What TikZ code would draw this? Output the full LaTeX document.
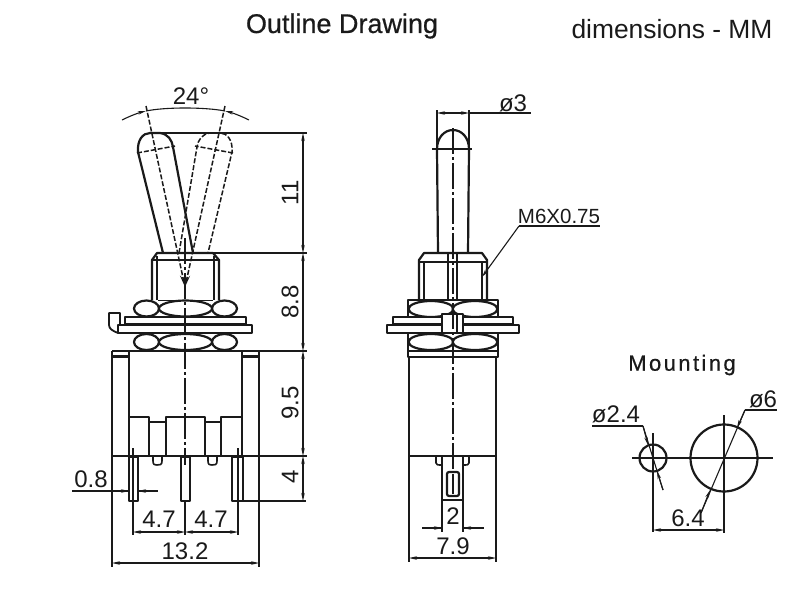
\documentclass[tikz,border=0pt]{standalone}
\usepackage{fontspec}
\setmainfont{Liberation Sans}
\newfontfamily\titlefont[FakeBold=0.6]{Liberation Sans}
\newfontfamily\cadfont[LetterSpace=11,FakeBold=0.6]{Liberation Sans}
\usetikzlibrary{arrows.meta}
\definecolor{ink}{HTML}{1A1A1A}
\tikzset{
  outline/.style={draw=ink,line width=2.2pt,line join=round},
  thinl/.style={draw=ink,line width=1.2pt},
  dimline/.style={draw=ink,line width=1.1pt},
  dimarrow/.style={dimline,{Stealth[length=8pt,width=3.5pt]}-{Stealth[length=8pt,width=3.5pt]}},
  tipend/.style={dimline,-{Stealth[length=8pt,width=3.5pt]}},
  centerl/.style={draw=ink,line width=1.2pt,dash pattern=on 26pt off 3pt on 3pt off 3pt},
  ghost/.style={draw=ink,line width=1.5pt,dash pattern=on 5pt off 2pt},
  nutfill/.style={outline,fill=white},
  lbl/.style={text=ink,inner sep=0pt,font=\fontsize{24}{26}\selectfont},
  smalllbl/.style={text=ink,inner sep=0pt,font=\fontsize{20.5}{22}\selectfont},
  vlbl/.style={lbl,rotate=90}
}
\begin{document}
\begin{tikzpicture}[x=1pt,y=-1pt]
\useasboundingbox (0,0) rectangle (800,600);
\fill[white] (0,0) rectangle (800,600);

% ---- titles
\node[text=ink,inner sep=0pt,font=\titlefont\fontsize{27}{29}\selectfont] (title) at (342,26) {Outline Drawing};
\node[text=ink,inner sep=0pt,font=\fontsize{26.4}{28}\selectfont] (units) at (672,29) {dimensions - MM};
\node[text=ink,inner sep=0pt,font=\cadfont\fontsize{22}{24}\selectfont] (mounttitle) at (682,365) {Mounting};

% ================ LEFT VIEW ================
% extension lines
\draw[thinl] (155,133) -- (307,133);
\draw[thinl] (214,253) -- (307,253);
\draw[thinl] (259,351) -- (307,351);
\draw[thinl] (112,456) -- (307,456);
\draw[thinl] (243,501) -- (306,501);
% body
\draw[thinl] (112,351) -- (112,567);
\draw[thinl] (259,351) -- (259,567);
\draw[outline] (112,351) -- (259,351);
\draw[outline] (129,351) -- (129,456);
\draw[outline] (242,351) -- (242,456);
\fill[ink] (113,355) rectangle (128,358);
\fill[ink] (243,355) rectangle (258,358);
\draw[outline,line width=1.6pt] (129,417) -- (149,417) -- (149,422) -- (166,422) -- (166,417) -- (205,417) -- (205,422) -- (221,422) -- (221,417) -- (242,417);
\draw[outline,line width=1.6pt] (149,422) -- (149,456) (166,422) -- (166,456) (205,422) -- (205,456) (221,422) -- (221,456);
% short pins
\draw[outline,line width=1.6pt] (153,457) -- (153,461) .. controls (153,465) and (155,465) .. (157,465) .. controls (160,465) and (162,465) .. (162,461) -- (162,457);
\draw[outline,line width=1.6pt] (208,457) -- (208,461) .. controls (208,465) and (210,465) .. (212,465) .. controls (215,465) and (217,465) .. (217,461) -- (217,457);
% long pins
\draw[outline,line width=1.6pt] (129,457) rectangle (138,501);
\draw[outline,line width=1.6pt] (181,457) rectangle (190,501);
\draw[outline,line width=1.6pt] (232,457) rectangle (243,501);
% pin ext lines
\draw[thinl] (133,448) -- (133,535);
\draw[thinl] (238,448) -- (238,535);
\draw[thinl] (185,501) -- (185,535);
% nuts
\draw[thinl] (158,300.5) -- (213,300.5) (158,316.5) -- (213,316.5) (158,333.5) -- (213,333.5);
\draw[nutfill] (146.5,308.5) ellipse (12.5 and 8);
\draw[nutfill] (224.5,308.5) ellipse (12.5 and 8);
\draw[nutfill] (185.5,308.5) ellipse (26.5 and 8);
\draw[nutfill] (146.5,342) ellipse (12.5 and 8);
\draw[nutfill] (224.5,342) ellipse (12.5 and 8);
\draw[nutfill] (185.5,342) ellipse (26.5 and 8);
% washer and plate
\draw[outline,line width=1.6pt,fill=white] (125,317) rectangle (246,324);
\draw[outline,fill=white] (118,325) rectangle (252,333);
\draw[outline,line width=1.8pt] (118,333) .. controls (113,331) and (109,329) .. (109,325) -- (109,313) -- (120,313) -- (120,325);
% bushing
\draw[outline] (152,300) -- (152,260) -- (157,253) -- (213,253) -- (219,260) -- (219,300);
\draw[thinl] (152,260) -- (219,260);
\draw[thinl] (157,256) -- (157,300) (214,256) -- (214,300);
% toggle, solid position
\draw[outline] (163,253) -- (138,152) .. controls (137,140) and (143,133) .. (150,133) -- (160,133) .. controls (168,134) and (172,140) .. (173,147) -- (193,253);
\draw[ghost] (137,153) -- (175,146);
% toggle, ghost position
\draw[ghost] (179,253) -- (197,147) .. controls (198,140) and (202,134) .. (210,133) -- (220,133) .. controls (227,133) and (233,140) .. (232,152) -- (208,253);
\draw[ghost] (233,153) -- (195,146);
% radial lines
\draw[ghost,-{Stealth[length=12pt,width=5pt]}] (146,106) -- (185,287);
\draw[ghost,-{Stealth[length=12pt,width=5pt]}] (225,106) -- (185,287);
% centre line
\draw[centerl] (185,238) -- (185,465);
% 24 degree
\draw[tipend] (122,120) .. controls (130,116) and (138,113) .. (146,111);
\draw[tipend] (249,120) .. controls (241,116) and (233,113) .. (225,111);
\draw[dimline] (146,111) .. controls (165,107) and (205,107) .. (225,111);
\node[lbl] (a24) at (191,96) {24°};
% right stack
\draw[dimarrow] (303,133) -- (303,253);
\draw[dimarrow] (303,253) -- (303,351);
\draw[dimarrow] (303,351) -- (303,456);
\draw[dimarrow] (303,456) -- (303,501);
\node[vlbl] (d11) at (290,193) {11};
\node[vlbl] (d88) at (290,302) {8.8};
\node[vlbl] (d95) at (290,403) {9.5};
\node[vlbl] (d4) at (290,477) {4};
% 0.8
\draw[dimline] (72,491) -- (129,491);
\draw[dimline,-{Stealth[length=8pt,width=3.5pt]}] (120,491) -- (129,491);
\draw[dimline,-{Stealth[length=8pt,width=3.5pt]}] (148,491) -- (138,491);
\draw[dimline] (138,491) -- (158,491);
\node[lbl] (d08) at (91,479) {0.8};
% 4.7
\draw[dimarrow] (133,532) -- (185,532);
\draw[dimarrow] (185,532) -- (238,532);
\node[lbl] (d47a) at (159,519) {4.7};
\node[lbl] (d47b) at (211,519) {4.7};
% 13.2
\draw[dimarrow] (112,563) -- (259,563);
\node[lbl] (d132) at (185,551) {13.2};

% ================ CENTRE VIEW ================
% lever
\draw[outline] (438,253) -- (437,149) .. controls (437,138) and (444,130) .. (453,130) .. controls (462,130) and (469,138) .. (469,149) -- (468,253);
\draw[thinl] (432,149) -- (472,149);
% phi 3
\draw[thinl] (437,110) -- (437,149);
\draw[thinl] (469,110) -- (469,149);
\draw[dimarrow] (437,113) -- (469,113);
\draw[dimline] (469,113) -- (531,113);
\node[lbl] (d3) at (513,103) {ø3};
% bushing
\draw[outline] (419,300) -- (419,260) -- (424,253) -- (482,253) -- (487,260) -- (487,300);
\draw[thinl] (419,262) -- (487,262);
\draw[thinl] (424,262) -- (424,300) (482,262) -- (482,300);
\draw[outline,line width=1.6pt] (448,253) -- (448,300) (457,253) -- (457,300);
% M6
\draw[dimline] (519,226) -- (600,226);
\draw[tipend] (519,226) -- (482,277);
\node[smalllbl] (m6) at (559,216) {M6X0.75};
% nuts
\draw[outline,line width=1.6pt] (408,300) rectangle (498,317);
\draw[nutfill] (431,309) ellipse (22.5 and 8);
\draw[nutfill] (475,309) ellipse (22.5 and 8);
\draw[outline,line width=1.6pt] (408,333) rectangle (498,351);
\draw[nutfill] (431,342) ellipse (22.5 and 8);
\draw[nutfill] (475,342) ellipse (22.5 and 8);
\draw[outline,line width=1.6pt,fill=white] (393,317) rectangle (513,324);
\draw[outline,fill=white] (387,325) rectangle (519,333);
\draw[outline,line width=1.6pt,fill=white] (442,314) rectangle (463,333);
\draw[thinl] (457,314) -- (457,333);
% body
\draw[outline,line width=1.6pt] (408,351) rectangle (498,357);
\draw[thinl] (409,357) -- (409,562);
\draw[thinl] (496,357) -- (496,562);
\draw[thinl] (409,456) -- (496,456);
% terminal
\draw[outline,line width=1.6pt] (442,456) -- (442,500) (463,456) -- (463,500);
\draw[thinl] (442,500) -- (442,532) (463,500) -- (463,532);
\draw[thinl] (442,500) -- (463,500);
\draw[outline,line width=1.6pt] (436,457) -- (436,463) .. controls (436,465) and (438,465) .. (442,465);
\draw[outline,line width=1.6pt] (469,457) -- (469,463) .. controls (469,465) and (467,465) .. (463,465);
\draw[outline,rounded corners=2pt] (447,472) rectangle (459,496);
\draw[centerl] (453,128) -- (453,470);
\draw[thinl] (453,474) -- (453,494);
% 2
\draw[dimline] (422,528) -- (442,528);
\draw[dimline] (463,528) -- (484,528);
\draw[tipend] (430,528) -- (442,528);
\draw[tipend] (475,528) -- (463,528);
\node[lbl] (d2) at (453,516) {2};
% 7.9
\draw[dimarrow] (409,558) -- (496,558);
\node[lbl] (d79) at (453,546) {7.9};

% ================ MOUNTING ================
\draw[outline] (653,458) circle (13.5);
\draw[outline] (724,458) circle (33.5);
\draw[thinl] (632,458) -- (773,458);
\draw[thinl] (653,433) -- (653,532);
\draw[thinl] (724,415) -- (724,533);
\draw[dimarrow] (653,530) -- (724,530);
\node[lbl] (d64) at (688,518) {6.4};
% phi 2.4
\draw[dimline] (592,426) -- (643,426);
\draw[dimline] (643,426) -- (663,490);
\draw[tipend] (643,426) -- (648,445);
\draw[tipend] (663,490) -- (657,471);
\node[lbl] (d24) at (616,414) {ø2.4};
% phi 6
\draw[dimline] (745,410) -- (777,410);
\draw[dimline] (745,410) -- (701,513);
\draw[tipend] (745,410) -- (737,428);
\draw[tipend] (701,513) -- (710,490);
\node[lbl] (d6) at (763,399) {ø6};
\end{tikzpicture}
\end{document}
